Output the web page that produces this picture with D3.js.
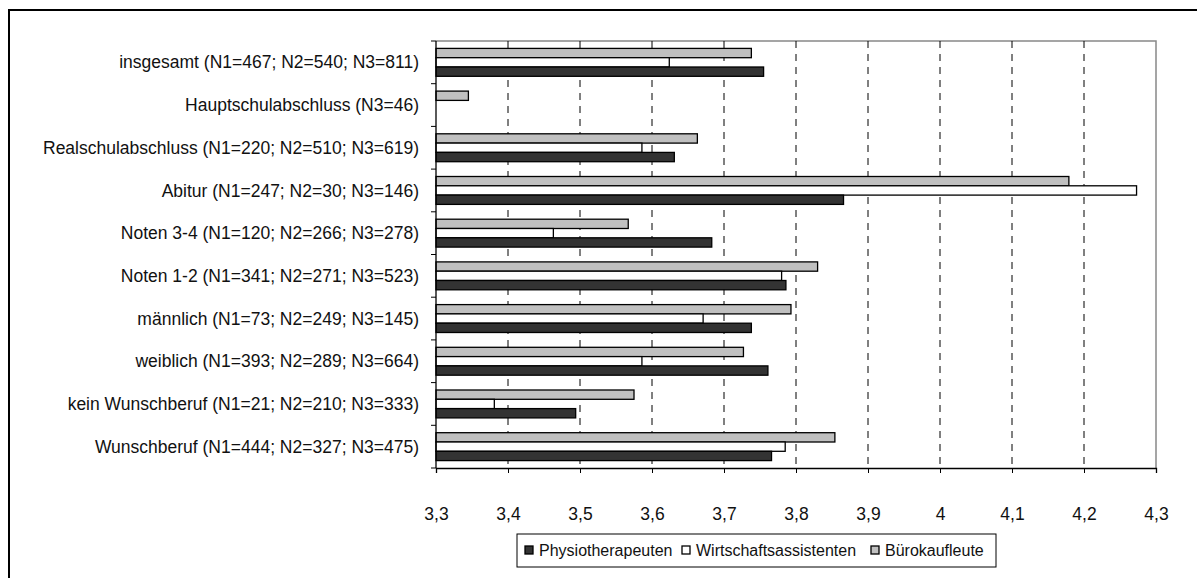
<!DOCTYPE html>
<html>
<head>
<meta charset="utf-8">
<script src="https://cdn.jsdelivr.net/npm/d3@7"></script>
<style>
  html, body { margin: 0; padding: 0; background: #fff; }
  svg { display: block; font-family: "Liberation Sans", Arial, sans-serif; }
</style>
</head>
<body>
<svg id="chart" width="1197" height="578"></svg>
<script>
// Categories, top to bottom
const categories = [
  "insgesamt (N1=467; N2=540; N3=811)",
  "Hauptschulabschluss (N3=46)",
  "Realschulabschluss (N1=220; N2=510; N3=619)",
  "Abitur (N1=247; N2=30; N3=146)",
  "Noten 3-4 (N1=120; N2=266; N3=278)",
  "Noten 1-2 (N1=341; N2=271; N3=523)",
  "männlich (N1=73; N2=249; N3=145)",
  "weiblich (N1=393; N2=289; N3=664)",
  "kein Wunschberuf (N1=21; N2=210; N3=333)",
  "Wunschberuf (N1=444; N2=327; N3=475)"
];

const seriesNames = ["Physiotherapeuten", "Wirtschaftsassistenten", "Bürokaufleute"];

// Mean values per category (null = no data)
const physiotherapeuten      = [3.755, null, 3.631, 3.866, 3.683, 3.786, 3.738, 3.761, 3.494, 3.766];
const wirtschaftsassistenten = [3.624, null, 3.586, 4.273, 3.463, 3.780, 3.671, 3.586, 3.381, 3.785];
const buerokaufleute         = [3.738, 3.345, 3.663, 4.179, 3.567, 3.830, 3.793, 3.727, 3.575, 3.854];

const tickValues = [3.3, 3.4, 3.5, 3.6, 3.7, 3.8, 3.9, 4.0, 4.1, 4.2, 4.3];

const seriesValues = [physiotherapeuten, wirtschaftsassistenten, buerokaufleute];
const seriesFill = ["#333333", "#ffffff", "#c0c0c0"];

const svg = d3.select("#chart");

// Outer frame (left and top edges visible)
svg.append("path")
  .attr("d", "M9,578 V10 H1197")
  .attr("fill", "none").attr("stroke", "#000").attr("stroke-width", 2);

const plot = { left: 436, right: 1156, top: 41, bottom: 468 };

const x = d3.scaleLinear().domain([3.3, 4.3]).range([plot.left, plot.right]);
const y = d3.scaleBand().domain(categories).range([plot.top, plot.bottom]);

// Plot area border (top and right)
svg.append("path")
  .attr("d", `M${plot.left},${plot.top} H${plot.right} V${plot.bottom}`)
  .attr("fill", "none").attr("stroke", "#888").attr("stroke-width", 1.5);

// Dashed vertical gridlines
svg.append("g").selectAll("line")
  .data(tickValues.slice(1, -1))
  .join("line")
  .attr("x1", d => x(d)).attr("x2", d => x(d))
  .attr("y1", plot.top).attr("y2", plot.bottom)
  .attr("stroke", "#000").attr("stroke-width", 1)
  .attr("stroke-dasharray", "7,6");

// Bars: Bürokaufleute on top, then Wirtschaftsassistenten, then Physiotherapeuten
const barH = 9.3;
const groupH = barH * 3;
const order = [2, 1, 0];
const bars = [];
categories.forEach((c, i) => {
  order.forEach((s, k) => {
    const v = seriesValues[s][i];
    if (v == null) return;
    bars.push({ c, v, s, k });
  });
});

svg.append("g").selectAll("rect")
  .data(bars)
  .join("rect")
  .attr("x", x(3.3))
  .attr("y", d => y(d.c) + (y.bandwidth() - groupH) / 2 + d.k * barH)
  .attr("width", d => x(d.v) - x(3.3))
  .attr("height", barH)
  .attr("fill", d => seriesFill[d.s])
  .attr("stroke", "#000")
  .attr("stroke-width", 1.3);

// Category axis with outward ticks at band boundaries
const yAxisG = svg.append("g");
yAxisG.append("line")
  .attr("x1", plot.left).attr("x2", plot.left)
  .attr("y1", plot.top).attr("y2", plot.bottom)
  .attr("stroke", "#000").attr("stroke-width", 1.3);
yAxisG.selectAll("line.tk")
  .data(d3.range(categories.length + 1))
  .join("line").attr("class", "tk")
  .attr("x1", plot.left - 5).attr("x2", plot.left)
  .attr("y1", i => plot.top + i * y.step()).attr("y2", i => plot.top + i * y.step())
  .attr("stroke", "#000").attr("stroke-width", 1);
yAxisG.selectAll("text")
  .data(categories)
  .join("text")
  .attr("x", 419)
  .attr("y", d => y(d) + y.bandwidth() / 2)
  .attr("dy", "0.35em")
  .attr("text-anchor", "end")
  .attr("font-size", 17.5)
  .attr("fill", "#111")
  .text(d => d);

// Value axis
const fmt = d => d3.format(".1~f")(d).replace(".", ",");
const xAxis = d3.axisBottom(x).tickValues(tickValues).tickSize(5).tickPadding(35).tickFormat(fmt);
const xAxisG = svg.append("g").attr("transform", `translate(0,${plot.bottom})`).call(xAxis);
xAxisG.select(".domain").attr("stroke", "#000").attr("stroke-width", 1.3);
xAxisG.selectAll(".tick line").attr("stroke", "#000");
xAxisG.selectAll(".tick text").attr("font-size", 17.5).attr("fill", "#111")
  .attr("font-family", "'Liberation Sans', Arial, sans-serif");

// Legend
const legend = svg.append("g");
legend.append("rect")
  .attr("x", 517).attr("y", 534).attr("width", 479).attr("height", 33)
  .attr("fill", "#fff").attr("stroke", "#000").attr("stroke-width", 1);
const legendX = [525, 682, 871];
seriesNames.forEach((name, s) => {
  legend.append("rect")
    .attr("x", legendX[s]).attr("y", 546).attr("width", 8).attr("height", 8)
    .attr("fill", seriesFill[s]).attr("stroke", "#000").attr("stroke-width", 1.3);
  legend.append("text")
    .attr("x", legendX[s] + 14).attr("y", 550.5).attr("dy", "0.35em")
    .attr("font-size", 16).attr("fill", "#111")
    .text(name);
});
</script>
</body>
</html>
